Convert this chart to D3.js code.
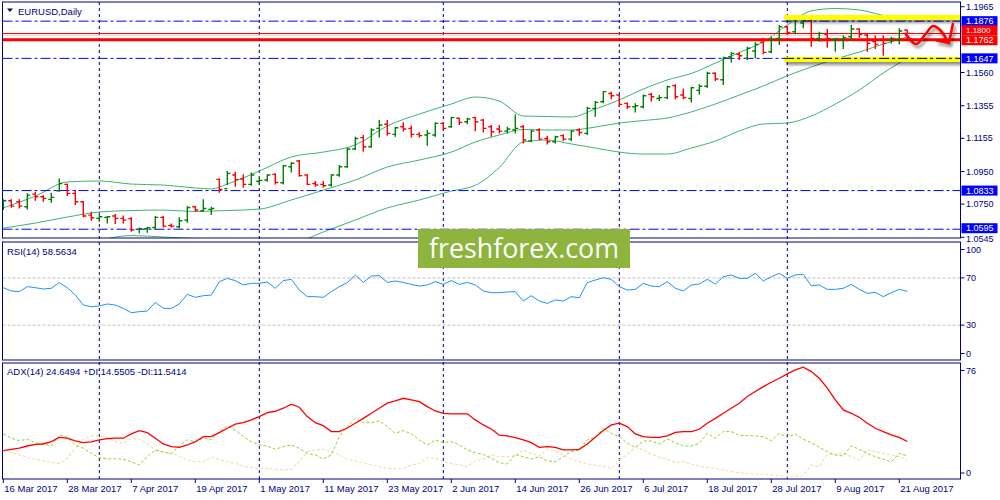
<!DOCTYPE html>
<html>
<head>
<meta charset="UTF-8">
<title>EURUSD, Daily</title>
<style>
  body { margin: 0; background: #fff; }
  svg { display: block; font-family: 'Liberation Sans', Arial, sans-serif; }
  .lbl { font-size: 9.5px; fill: #000080; }
  .ax { font-size: 9px; }
  .frame { fill: none; stroke: #000080; stroke-width: 1; }
</style>
</head>
<body>
<svg id="chart" width="1000" height="500"></svg>
<script src="https://d3js.org/d3.v7.min.js"></script>
<script>
// ---- data (one entry per daily bar, 16 Mar .. 22 Aug 2017) ----
const openP = [1.0733,1.0770,1.0764,1.0733,1.0811,1.0795,1.0779,1.0832,1.0871,1.0816,
  1.0764,1.0682,1.0662,1.0668,1.0676,1.0662,1.0660,1.0594,1.0598,1.0606,
  1.0668,1.0618,1.0610,1.0651,1.0733,1.0709,1.0717,1.0902,1.0845,1.0929,
  1.0904,1.0871,1.0890,1.0898,1.0933,1.0881,1.0980,1.1015,1.0929,1.0877,
  1.0871,1.0867,1.0929,1.0980,1.1089,1.1159,1.1103,1.1216,1.1241,1.1179,
  1.1226,1.1216,1.1179,1.1175,1.1175,1.1247,1.1226,1.1278,1.1257,1.1282,
  1.1267,1.1226,1.1212,1.1199,1.1206,1.1226,1.1138,1.1206,1.1154,1.1134,
  1.1171,1.1150,1.1206,1.1185,1.1339,1.1380,1.1431,1.1421,1.1370,1.1349,
  1.1349,1.1425,1.1400,1.1405,1.1479,1.1421,1.1400,1.1450,1.1475,1.1555,
  1.1515,1.1657,1.1672,1.1647,1.1692,1.1746,1.1688,1.1770,1.1842,1.1811,
  1.1865,1.1883,1.1770,1.1795,1.1760,1.1760,1.1780,1.1828,1.1791,1.1750,
  1.1760,1.1760,1.1760,1.1822];
const highP = [1.0779,1.0779,1.0779,1.0816,1.0826,1.0805,1.0820,1.0908,1.0877,1.0836,
  1.0768,1.0703,1.0682,1.0676,1.0688,1.0680,1.0668,1.0606,1.0610,1.0676,
  1.0676,1.0631,1.0668,1.0737,1.0737,1.0779,1.0733,1.0908,1.0953,1.0949,
  1.0933,1.0945,1.0918,1.0933,1.0939,1.0990,1.1007,1.1021,1.0933,1.0892,
  1.0892,1.0933,1.0990,1.1097,1.1165,1.1175,1.1216,1.1267,1.1267,1.1226,
  1.1253,1.1233,1.1192,1.1206,1.1253,1.1253,1.1288,1.1282,1.1282,1.1288,
  1.1273,1.1236,1.1236,1.1226,1.1302,1.1236,1.1206,1.1216,1.1171,1.1171,
  1.1179,1.1206,1.1216,1.1349,1.1384,1.1446,1.1442,1.1425,1.1376,1.1370,
  1.1425,1.1435,1.1421,1.1479,1.1487,1.1462,1.1472,1.1487,1.1565,1.1561,
  1.1657,1.1684,1.1684,1.1719,1.1746,1.1774,1.1778,1.1852,1.1848,1.1914,
  1.1889,1.1893,1.1811,1.1828,1.1774,1.1787,1.1852,1.1832,1.1801,1.1787,
  1.1787,1.1780,1.1832,1.1822];
const lowP = [1.0713,1.0727,1.0723,1.0717,1.0770,1.0764,1.0758,1.0826,1.0799,1.0744,
  1.0668,1.0647,1.0641,1.0631,1.0627,1.0631,1.0579,1.0569,1.0573,1.0590,
  1.0606,1.0606,1.0600,1.0635,1.0703,1.0703,1.0682,1.0820,1.0867,1.0857,
  1.0851,1.0863,1.0867,1.0888,1.0871,1.0871,1.0945,1.0918,1.0867,1.0857,
  1.0851,1.0857,1.0918,1.0974,1.1083,1.1072,1.1097,1.1159,1.1171,1.1165,
  1.1196,1.1159,1.1159,1.1109,1.1165,1.1206,1.1220,1.1237,1.1241,1.1199,
  1.1191,1.1164,1.1185,1.1185,1.1185,1.1123,1.1130,1.1144,1.1117,1.1123,
  1.1138,1.1138,1.1171,1.1175,1.1288,1.1370,1.1396,1.1349,1.1335,1.1314,
  1.1339,1.1380,1.1384,1.1396,1.1396,1.1396,1.1376,1.1425,1.1465,1.1507,
  1.1483,1.1622,1.1637,1.1637,1.1647,1.1672,1.1678,1.1729,1.1791,1.1795,
  1.1832,1.1719,1.1750,1.1713,1.1688,1.1705,1.1754,1.1774,1.1688,1.1705,
  1.1663,1.1739,1.1733,1.1795];
const closeP = [1.0770,1.0737,1.0737,1.0805,1.0795,1.0785,1.0791,1.0877,1.0816,1.0764,
  1.0676,1.0666,1.0672,1.0672,1.0662,1.0651,1.0590,1.0598,1.0604,1.0668,
  1.0614,1.0614,1.0647,1.0729,1.0713,1.0723,1.0723,1.0840,1.0939,1.0902,
  1.0871,1.0929,1.0896,1.0929,1.0883,1.0986,1.1001,1.0925,1.0871,1.0867,
  1.0863,1.0929,1.0980,1.1089,1.1154,1.1103,1.1206,1.1237,1.1185,1.1220,
  1.1212,1.1179,1.1171,1.1185,1.1247,1.1216,1.1282,1.1253,1.1274,1.1257,
  1.1216,1.1195,1.1199,1.1212,1.1216,1.1144,1.1199,1.1150,1.1134,1.1164,
  1.1150,1.1199,1.1191,1.1339,1.1376,1.1442,1.1417,1.1364,1.1349,1.1355,
  1.1417,1.1411,1.1405,1.1472,1.1411,1.1405,1.1466,1.1475,1.1555,1.1520,
  1.1651,1.1678,1.1663,1.1709,1.1733,1.1684,1.1762,1.1842,1.1807,1.1889,
  1.1883,1.1770,1.1801,1.1770,1.1766,1.1774,1.1828,1.1795,1.1739,1.1733,
  1.1739,1.1770,1.1815,1.1801];

// Bollinger bands, read at these bar indices
const bandIdx = [0,4,8,12,16,20,24,26,28,32,36,40,44,48,52,56,59,62,65,68,71,74,77,80,83,86,89,92,95,98,101,104,107,110,113];
const bandUpper = [1.0726,1.0799,1.0886,1.0892,1.0873,1.0867,1.0849,1.0843,1.0873,1.0953,1.1040,1.1070,1.1114,1.1231,1.1304,1.1366,1.1409,1.1384,1.1292,1.1289,1.1286,1.1335,1.1391,1.1458,1.1514,1.1554,1.1618,1.1683,1.1748,1.1852,1.1939,1.1954,1.1945,1.1911,1.1883];
const bandMiddle = [1.0602,1.0633,1.0670,1.0701,1.0710,1.0713,1.0704,1.0707,1.0710,1.0719,1.0775,1.0836,1.0898,1.0978,1.1021,1.1070,1.1132,1.1175,1.1209,1.1206,1.1206,1.1224,1.1249,1.1264,1.1280,1.1317,1.1366,1.1421,1.1477,1.1540,1.1594,1.1643,1.1686,1.1735,1.1778];
const bandLower = [1.0478,1.0467,1.0454,1.0525,1.0556,1.0547,1.0538,1.0532,1.0522,1.0485,1.0504,1.0578,1.0652,1.0726,1.0775,1.0830,1.0865,1.0975,1.1132,1.1144,1.1120,1.1095,1.1070,1.1058,1.1058,1.1095,1.1138,1.1200,1.1243,1.1249,1.1292,1.1366,1.1452,1.1557,1.1649];

const rsi = [61.7,58.9,58.3,62.6,61.7,60.6,61.2,66.0,61.7,55.5,47.0,45.6,46.2,47.9,47.0,44.2,40.5,41.4,41.9,49.3,
  44.2,44.2,47.9,56.1,53.5,54.9,55.5,66.8,69.6,67.7,64.0,65.4,65.4,66.5,61.2,67.7,68.8,59.7,54.1,54.1,
  53.5,58.3,62.6,66.0,72.5,66.2,71.6,71.9,66.2,67.4,66.2,64.5,63.1,64.0,66.8,64.5,67.7,64.5,66.2,64.0,
  58.9,57.5,57.5,58.1,58.3,50.4,54.9,50.4,48.4,51.3,50.4,54.1,53.2,66.0,68.2,70.2,68.8,62.6,59.7,60.3,
  65.4,63.1,62.6,66.8,61.2,58.9,64.0,64.8,68.8,64.8,71.0,72.5,69.6,69.6,73.9,67.4,71.0,73.9,69.6,72.5,
  73.0,63.4,64.0,60.3,60.3,61.2,64.5,60.3,56.9,57.8,54.1,57.5,60.3,58.6];
const adx = [18.3,19.2,20.1,21.5,22.7,22.9,24.5,27.5,26.9,25.0,23.8,24.3,25.7,26.6,26.9,26.9,29.9,32.2,30.8,26.9,
  22.9,21.1,20.6,22.2,24.5,28.0,28.0,30.8,33.8,36.6,37.7,39.6,41.9,44.7,45.6,47.7,50.5,48.4,41.9,37.7,
  35.6,31.5,31.5,34.0,37.3,40.7,44.2,47.7,51.2,52.8,54.6,53.5,52.3,48.8,45.8,44.2,43.8,43.8,43.8,39.6,
  36.1,33.3,29.0,28.5,27.3,25.7,23.8,20.6,21.1,20.6,18.8,18.8,19.2,22.9,27.5,32.2,36.1,37.3,35.0,29.9,
  28.0,27.5,27.5,28.5,31.0,31.5,31.5,33.1,37.3,40.7,44.2,47.7,51.2,55.8,59.3,62.7,65.7,68.5,71.5,74.3,
  76.2,73.1,68.5,61.6,53.5,46.5,44.2,41.4,37.3,33.8,31.5,29.2,27.5,24.6];
const plusDI = [29.9,26.9,25.2,26.2,23.8,22.9,21.5,29.2,27.5,22.2,19.9,16.4,13.4,12.5,12.7,12.3,10.6,8.3,14.1,18.8,
  17.4,16.0,21.5,25.7,24.5,26.9,25.7,31.5,35.4,32.6,28.0,24.5,22.2,21.5,19.2,21.1,22.2,19.9,16.4,15.3,
  12.5,15.3,28.0,35.0,40.7,37.7,37.7,38.9,35.0,30.3,32.2,29.9,25.7,22.2,25.7,23.8,24.5,22.2,18.8,16.9,
  15.7,13.0,10.0,9.0,15.7,14.1,12.5,14.1,11.1,10.6,14.1,17.6,18.8,25.7,27.5,33.8,30.3,28.0,23.4,20.6,
  25.0,25.0,22.9,26.4,23.8,21.5,21.5,23.4,30.3,26.9,31.5,31.5,28.7,28.7,28.5,28.0,25.2,30.3,27.5,29.9,
  26.2,23.8,20.6,17.6,15.3,14.6,21.5,19.2,16.4,14.1,12.3,10.6,16.4,14.6];
const minusDI = [18.3,16.9,15.3,13.7,12.3,11.3,10.0,9.5,13.0,19.9,26.2,28.5,28.5,27.5,24.5,23.4,26.9,26.2,22.9,18.8,
  16.9,16.4,14.6,11.8,10.6,10.6,13.7,12.3,10.6,9.5,7.6,6.7,5.6,6.0,5.3,4.9,5.3,10.6,17.6,18.8,
  19.2,17.6,15.3,12.3,11.1,10.0,8.3,7.2,6.0,5.6,6.0,8.3,9.5,13.4,13.0,10.6,9.5,8.3,7.2,11.1,
  12.3,15.3,14.1,14.1,14.8,18.8,16.4,14.6,19.2,17.6,15.3,12.3,10.6,9.0,8.3,7.2,6.0,11.8,15.7,20.6,
  18.8,16.0,13.7,12.3,10.0,10.6,9.0,7.6,6.7,6.0,4.9,3.7,3.0,2.5,2.1,1.9,1.4,1.2,0.2,0.2,
  1.4,8.3,7.2,15.7,15.7,16.4,14.1,11.8,18.8,17.6,16.4,15.3,14.1,11.5];

// axis / annotation values
const priceTicks = [1.1965, 1.1560, 1.1355, 1.1155, 1.0950, 1.0750, 1.0545];
const blueLevels = [1.1876, 1.1647, 1.0833, 1.0595];
const bidPrice = 1.1800, redLevel = 1.1762;
const rsiTicks = [100, 70, 30, 0];
const rsiLevels = [70, 30];
const adxTicks = [76, 0];
const separatorIdx = [12, 32, 55, 77, 98];
const dateIdx = [0, 8, 16, 24, 32, 40, 48, 56, 64, 72, 80, 88, 96, 104, 112];
const dateLabels = ["16 Mar 2017","28 Mar 2017","7 Apr 2017","19 Apr 2017","1 May 2017","11 May 2017",
  "23 May 2017","2 Jun 2017","14 Jun 2017","26 Jun 2017","6 Jul 2017","18 Jul 2017","28 Jul 2017",
  "9 Aug 2017","21 Aug 2017"];
// hand drawn range / forecast, in bar index & price
const rangeFrom = 97.6, rangeHigh = 1.1899, rangeLow = 1.1640;
const waveIdx = [112.8, 114.1, 115.2, 116.2, 117.1, 118.0];
const wavePrice = [1.1797, 1.1735, 1.1791, 1.1846, 1.1822, 1.1754];
const headIdx = [116.7, 118.2, 118.7];
const headPrice = [1.1757, 1.1742, 1.1859];

// ---- layout ----
const plotL = 2.5, plotR = 960.5;
const main = {top: 2, bottom: 238}, pRsi = {top: 242, bottom: 360}, pAdx = {top: 363, bottom: 479};

const svg = d3.select("#chart");
const x = d3.scaleLinear().domain([0, 113]).range([3.3, 907.3]);
const yP = d3.scaleLinear().domain([1.0541, 1.1994]).range([main.bottom, main.top]);
const yR = d3.scaleLinear().domain([0, 100]).range([360.5, 242.5]);
const yA = d3.scaleLinear().domain([0, 76.3]).range([477, 367]);

const defs = svg.append("defs");
[["clipMain", main], ["clipRsi", pRsi], ["clipAdx", pAdx]].forEach(([id, p]) => {
  defs.append("clipPath").attr("id", id).append("rect")
    .attr("x", plotL).attr("y", p.top).attr("width", plotR - plotL).attr("height", p.bottom - p.top);
});
const sh = defs.append("filter").attr("id", "shadow")
  .attr("x", "-10%").attr("y", "-100%").attr("width", "130%").attr("height", "400%");
sh.append("feGaussianBlur").attr("in", "SourceAlpha").attr("stdDeviation", 1.6);
sh.append("feOffset").attr("dx", 2).attr("dy", 3);
sh.append("feComponentTransfer").append("feFuncA").attr("type", "linear").attr("slope", 0.45);
const m = sh.append("feMerge");
m.append("feMergeNode");
m.append("feMergeNode").attr("in", "SourceGraphic");

// period separators through all panes
svg.append("g").selectAll("line").data(separatorIdx).join("line")
  .attr("x1", d => x(d)).attr("x2", d => x(d))
  .attr("y1", main.top).attr("y2", pAdx.bottom)
  .attr("stroke", "#000080").attr("stroke-dasharray", "3,3");

// ---- main pane ----
const gm = svg.append("g").attr("clip-path", "url(#clipMain)");

const bandLine = arr => d3.line().x((d, k) => x(bandIdx[k])).y(d => yP(d)).curve(d3.curveMonotoneX)(arr);
[bandUpper, bandMiddle, bandLower].forEach(b => {
  gm.append("path").attr("d", bandLine(b)).attr("fill", "none")
    .attr("stroke", "#3cb371").attr("stroke-width", 1);
});

gm.selectAll("line.lvl").data(blueLevels).join("line").attr("class", "lvl")
  .attr("x1", plotL).attr("x2", plotR).attr("y1", d => yP(d)).attr("y2", d => yP(d))
  .attr("stroke", "#0000ff").attr("stroke-dasharray", "10,3,3,3");

gm.append("line").attr("x1", plotL).attr("x2", plotR)
  .attr("y1", yP(bidPrice)).attr("y2", yP(bidPrice)).attr("stroke", "#ff0000");
gm.append("line").attr("x1", plotL).attr("x2", plotR)
  .attr("y1", yP(bidPrice) + 1.8).attr("y2", yP(bidPrice) + 1.8).attr("stroke", "#f4c4c4");
gm.append("line").attr("x1", plotL).attr("x2", plotR)
  .attr("y1", yP(redLevel)).attr("y2", yP(redLevel)).attr("stroke", "#ff0000").attr("stroke-width", 3);

// OHLC bars
const bars = openP.map((o, i) => ({i, o, h: highP[i], l: lowP[i], c: closeP[i]}));
gm.selectAll("path.bar").data(bars).join("path").attr("class", "bar")
  .attr("d", d => {
    const xx = x(d.i);
    return `M${xx},${yP(d.h)}V${yP(d.l)}M${xx - 3},${yP(d.o)}H${xx}M${xx},${yP(d.c)}H${xx + 3}`;
  })
  .attr("fill", "none").attr("stroke-width", 1.4)
  .attr("stroke", d => d.c >= d.o ? "#008000" : "#ff0000");

// range highlight
const gr = gm.append("g");
[rangeHigh, rangeLow].forEach(p => {
  gr.append("rect").attr("x", x(rangeFrom)).attr("y", yP(p) - 2.5)
    .attr("width", plotR - x(rangeFrom)).attr("height", 5)
    .attr("fill", "#ffff00").attr("filter", "url(#shadow)");
});
gr.append("line").attr("x1", x(rangeFrom)).attr("x2", plotR)
  .attr("y1", yP(1.1647)).attr("y2", yP(1.1647))
  .attr("stroke", "#000000").attr("stroke-dasharray", "10,3,3,3");

// forecast wave
const ga = gm.append("g").attr("filter", "url(#shadow)");
ga.append("path")
  .attr("d", d3.line().x((d, k) => x(waveIdx[k])).y(d => yP(d)).curve(d3.curveCatmullRom)(wavePrice))
  .attr("fill", "none").attr("stroke", "#ff0000").attr("stroke-width", 2.6).attr("stroke-linecap", "round");
ga.append("path")
  .attr("d", d3.line().x((d, k) => x(headIdx[k])).y(d => yP(d))(headPrice))
  .attr("fill", "none").attr("stroke", "#ff0000").attr("stroke-width", 2.6)
  .attr("stroke-linecap", "round").attr("stroke-linejoin", "round");

// ---- RSI pane ----
const gR = svg.append("g").attr("clip-path", "url(#clipRsi)");
gR.selectAll("line").data(rsiLevels).join("line")
  .attr("x1", plotL).attr("x2", plotR).attr("y1", d => yR(d)).attr("y2", d => yR(d))
  .attr("stroke", "#c0c0c0").attr("stroke-dasharray", "3,2");
gR.append("path")
  .attr("d", d3.line().x((d, i) => x(i)).y(d => yR(d))(rsi))
  .attr("fill", "none").attr("stroke", "#1e90ff").attr("stroke-width", 1);

// ---- ADX pane ----
const gA = svg.append("g").attr("clip-path", "url(#clipAdx)");
const adxLine = d3.line().x((d, i) => x(i)).y(d => yA(d));
gA.append("path").attr("d", adxLine(minusDI)).attr("fill", "none")
  .attr("stroke", "#f5deb3").attr("stroke-width", 1.2).attr("stroke-dasharray", "3,2");
gA.append("path").attr("d", adxLine(plusDI)).attr("fill", "none")
  .attr("stroke", "#9acd32").attr("stroke-dasharray", "3,2");
gA.append("path").attr("d", adxLine(adx)).attr("fill", "none")
  .attr("stroke", "#ff0000").attr("stroke-width", 1.3);

// ---- frames ----
[main, pRsi, pAdx].forEach(p => {
  svg.append("rect").attr("class", "frame")
    .attr("x", plotL).attr("y", p.top).attr("width", plotR - plotL).attr("height", p.bottom - p.top);
});

// ---- right axis ----
const ax = svg.append("g");
const tickOff = p => p === 1.0545 ? 1.6 : 0;
ax.selectAll("line.pt").data(priceTicks).join("line").attr("class", "pt")
  .attr("x1", plotR).attr("x2", plotR + 4).attr("y1", d => yP(d)).attr("y2", d => yP(d))
  .attr("stroke", "#000080");
ax.selectAll("text.pt").data(priceTicks).join("text").attr("class", "pt lbl ax")
  .attr("x", 966).attr("y", d => yP(d) + tickOff(d)).attr("dy", "0.35em").text(d => d.toFixed(4));

// label boxes on the price axis: [price, colour, text shift]
function axisBox(p, color, shift, size) {
  const yy = yP(p) + shift;
  ax.append("rect").attr("x", 961.5).attr("y", yy - 5).attr("width", 36).attr("height", 10).attr("fill", color);
  ax.append("text").attr("class", "lbl ax").attr("x", 966).attr("y", yy).attr("dy", "0.35em")
    .style("fill", "#ffffff").style("font-size", size + "px").text(p.toFixed(4));
}
blueLevels.forEach(p => axisBox(p, "#0000ff", p === 1.0595 ? -1 : 0, 9));
axisBox(bidPrice, "#ff0000", -3.2, 8);
axisBox(redLevel, "#ff0000", 0.6, 9);

const rsiOff = {100: 7, 70: 0, 30: 0, 0: -7};
ax.selectAll("line.rt").data(rsiTicks).join("line").attr("class", "rt")
  .attr("x1", plotR).attr("x2", plotR + 4).attr("y1", d => yR(d) + rsiOff[d]).attr("y2", d => yR(d) + rsiOff[d])
  .attr("stroke", "#000080");
ax.selectAll("text.rt").data(rsiTicks).join("text").attr("class", "rt lbl ax")
  .attr("x", 966).attr("y", d => yR(d) + rsiOff[d]).attr("dy", "0.35em").text(d => d);

const adxOff = {76: 3, 0: -4};
ax.selectAll("line.at").data(adxTicks).join("line").attr("class", "at")
  .attr("x1", plotR).attr("x2", plotR + 4).attr("y1", d => yA(d) + adxOff[d]).attr("y2", d => yA(d) + adxOff[d])
  .attr("stroke", "#000080");
ax.selectAll("text.at").data(adxTicks).join("text").attr("class", "at lbl ax")
  .attr("x", 966).attr("y", d => yA(d) + adxOff[d]).attr("dy", "0.35em").text(d => d);

// ---- time axis ----
const tx = svg.append("g");
tx.selectAll("line").data(dateIdx).join("line")
  .attr("x1", d => x(d)).attr("x2", d => x(d)).attr("y1", pAdx.bottom).attr("y2", pAdx.bottom + 4)
  .attr("stroke", "#000080");
tx.selectAll("text").data(dateIdx).join("text").attr("class", "lbl")
  .attr("x", d => x(d) + 1).attr("y", 492).text((d, k) => dateLabels[k]);

// ---- pane titles ----
svg.append("path").attr("d", "M7,8.5H13L10,12Z").attr("fill", "#000080");
svg.append("text").attr("class", "lbl").attr("x", 18).attr("y", 14.5).text("EURUSD,Daily");
svg.append("text").attr("class", "lbl").attr("x", 7).attr("y", 255).text("RSI(14) 58.5634");
svg.append("text").attr("class", "lbl").attr("x", 7).attr("y", 375)
  .text("ADX(14) 24.6494 +DI:14.5505 -DI:11.5414");

// ---- watermark ----
svg.append("rect").attr("x", 418).attr("y", 229).attr("width", 212).attr("height", 39).attr("fill", "#8db53e");
svg.append("text").attr("x", 524).attr("y", 258).attr("text-anchor", "middle")
  .attr("textLength", 190).attr("lengthAdjust", "spacingAndGlyphs")
  .style("font-family", "'Open Sans', sans-serif").style("font-size", "28px").style("fill", "#ffffff")
  .text("freshforex.com");
</script>
</body>
</html>
